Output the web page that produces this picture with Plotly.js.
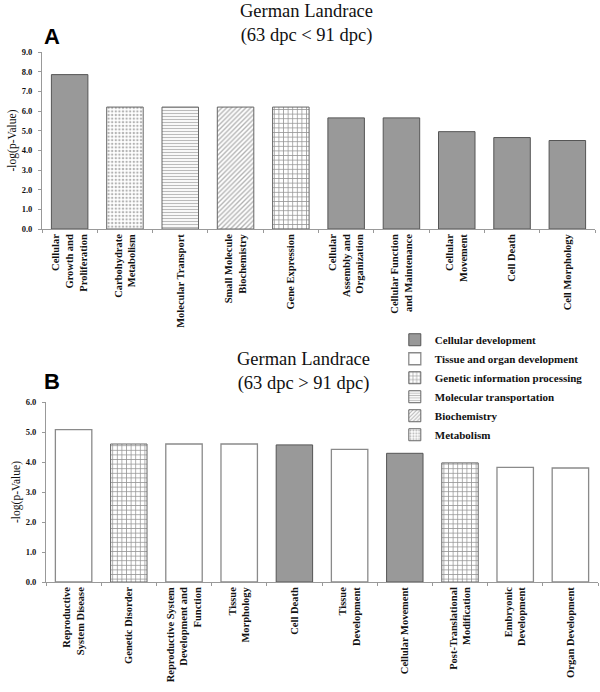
<!DOCTYPE html>
<html>
<head>
<meta charset="utf-8">
<script src="https://cdn.plot.ly/plotly-3.0.1.min.js"></script>
<style>html,body{margin:0;padding:0;background:#fff;}#chart{width:600px;height:692px;}</style>
</head>
<body>
<div id="chart"></div>
<script>
// ---------- data ----------
var topCategories = ["Cellular Growth and Proliferation", "Carbohydrate Metabolism", "Molecular Transport", "Small Molecule Biochemistry", "Gene Expression", "Cellular Assembly and Organization", "Cellular Function and Maintenance", "Cellular Movement", "Cell Death", "Cell Morphology"];
var topLabels = ["Cellular<br>Growth and<br>Proliferation", "Carbohydrate<br>Metabolism", "Molecular Transport", "Small Molecule<br>Biochemistry", "Gene Expression", "Cellular<br>Assembly and<br>Organization", "Cellular Function<br>and Maintenance", "Cellular<br>Movement", "Cell Death", "Cell Morphology"];
var topValues = [7.85, 6.2, 6.2, 6.2, 6.2, 5.65, 5.65, 4.95, 4.65, 4.5];
var topGroups = ["Cellular development", "Metabolism", "Molecular transportation", "Biochemistry", "Genetic information processing", "Cellular development", "Cellular development", "Cellular development", "Cellular development", "Cellular development"];

var bottomCategories = ["Reproductive System Disease", "Genetic Disorder", "Reproductive System Development and Function", "Tissue Morphology", "Cell Death", "Tissue Development", "Cellular Movement", "Post-Translational Modification", "Embryonic Development", "Organ Development"];
var bottomLabels = ["Reproductive<br>System Disease", "Genetic Disorder", "Reproductive System<br>Development and<br>Function", "Tissue<br>Morphology", "Cell Death", "Tissue<br>Development", "Cellular Movement", "Post-Translational<br>Modification", "Embryonic<br>Development", "Organ Development"];
var bottomValues = [5.08, 4.6, 4.6, 4.6, 4.57, 4.42, 4.29, 3.97, 3.82, 3.8];
var bottomGroups = ["Tissue and organ development", "Genetic information processing", "Tissue and organ development", "Tissue and organ development", "Cellular development", "Tissue and organ development", "Cellular development", "Genetic information processing", "Tissue and organ development", "Tissue and organ development"];

var legendOrder = ["Cellular development", "Tissue and organ development", "Genetic information processing", "Molecular transportation", "Biochemistry", "Metabolism"];

var topTitle = "German Landrace<br>(63 dpc &lt; 91 dpc)";
var bottomTitle = "German Landrace<br>(63 dpc &gt; 91 dpc)";
var yTitle = "-log(p-Value)";

// ---------- styles ----------
var SERIF = "Liberation Serif, Times New Roman, serif";
var styles = {
  "Cellular development": {color: "#999999", line: {color: "#555555", width: 1}},
  "Tissue and organ development": {color: "#ffffff", line: {color: "#8a8a8a", width: 1.3}},
  "Genetic information processing": {color: "#ffffff", line: {color: "#666666", width: 1},
      pattern: {shape: "+", size: 4.6, solidity: 0.3, fgcolor: "#2a2a2a", bgcolor: "#ffffff", fillmode: "overlay"}},
  "Molecular transportation": {color: "#ffffff", line: {color: "#666666", width: 1},
      pattern: {shape: "-", size: 3, solidity: 0.4, fgcolor: "#777777", bgcolor: "#ffffff", fillmode: "overlay"}},
  "Biochemistry": {color: "#ffffff", line: {color: "#666666", width: 1},
      pattern: {shape: "/", size: 3.4, solidity: 0.4, fgcolor: "#666666", bgcolor: "#ffffff", fillmode: "overlay"}},
  "Metabolism": {color: "#ffffff", line: {color: "#666666", width: 1},
      pattern: {shape: ".", size: 3.6, solidity: 0.35, fgcolor: "#666666", bgcolor: "#ffffff", fillmode: "overlay"}}
};

var traces = [];
var shown = {};
function addPanel(cats, vals, groups, xa, ya) {
  legendOrder.forEach(function (g, gi) {
    var xs = [], ys = [];
    for (var i = 0; i < cats.length; i++) {
      if (groups[i] === g) { xs.push(cats[i]); ys.push(vals[i]); }
    }
    if (!xs.length) return;
    traces.push({
      type: "bar", x: xs, y: ys, xaxis: xa, yaxis: ya,
      name: g, legendgroup: g, legendrank: gi + 1,
      showlegend: !shown[g],
      marker: styles[g],
      hoverinfo: "x+y"
    });
    shown[g] = true;
  });
}
addPanel(topCategories, topValues, topGroups, "x", "y");
addPanel(bottomCategories, bottomValues, bottomGroups, "x2", "y2");

function alias(cats, labels) {
  var o = {};
  cats.forEach(function (c, i) { o[c] = labels[i]; });
  return o;
}

var xCommon = {
  type: "category", tickangle: -90, ticks: "outside", tickson: "boundaries",
  ticklen: 3, tickcolor: "#999", showline: true, linecolor: "#999", linewidth: 1,
  showgrid: false, zeroline: false, fixedrange: true,
  tickfont: {family: SERIF, size: 10.5, color: "#111", weight: "bold"}
};
var yCommon = {
  dtick: 1, tickformat: ".1f", ticks: "outside", ticklen: 3, tickcolor: "#999",
  ticklabelstandoff: 4,
  showline: true, linecolor: "#999", linewidth: 1, showgrid: false, zeroline: false,
  tickfont: {family: SERIF, size: 8.5, color: "#111", weight: "bold"},
  title: {text: yTitle, standoff: 2, font: {family: SERIF, size: 11.5, color: "#111"}}
};

var layout = {
  width: 600, height: 692,
  margin: {l: 0, r: 0, t: 0, b: 0},
  paper_bgcolor: "#fff", plot_bgcolor: "#fff",
  barmode: "overlay", bargap: 0.34,
  showlegend: true,
  legend: {x: 0.658, y: 0.53, xanchor: "left", yanchor: "top", bgcolor: "rgba(0,0,0,0)",
    font: {family: SERIF, size: 11, color: "#111", weight: "bold"}, traceorder: "normal"},
  xaxis: Object.assign({}, xCommon, {domain: [42 / 600, 595 / 600], anchor: "y",
    categoryorder: "array", categoryarray: topCategories, labelalias: alias(topCategories, topLabels)}),
  yaxis: Object.assign({}, yCommon, {domain: [1 - 229 / 692, 1 - 52 / 692], range: [0, 9], anchor: "x"}),
  xaxis2: Object.assign({}, xCommon, {domain: [46 / 600, 598 / 600], anchor: "y2",
    categoryorder: "array", categoryarray: bottomCategories, labelalias: alias(bottomCategories, bottomLabels)}),
  yaxis2: Object.assign({}, yCommon, {domain: [1 - 582 / 692, 1 - 402 / 692], range: [0, 6], anchor: "x2"}),
  annotations: [
    {text: topTitle, xref: "paper", yref: "paper", x: 306 / 600, y: 1 - 24 / 692, xanchor: "center", yanchor: "middle",
     showarrow: false, font: {family: SERIF, size: 18.5, color: "#111"}},
    {text: bottomTitle, xref: "paper", yref: "paper", x: 303 / 600, y: 1 - 371 / 692, xanchor: "center", yanchor: "middle",
     showarrow: false, font: {family: SERIF, size: 18.5, color: "#111"}},
    {text: "<b>A</b>", xref: "paper", yref: "paper", x: 42 / 600, y: 1 - 36 / 692, xanchor: "left", yanchor: "middle",
     showarrow: false, font: {family: "Liberation Sans, Arial, sans-serif", size: 22, color: "#000"}},
    {text: "<b>B</b>", xref: "paper", yref: "paper", x: 42 / 600, y: 1 - 381 / 692, xanchor: "left", yanchor: "middle",
     showarrow: false, font: {family: "Liberation Sans, Arial, sans-serif", size: 22, color: "#000"}}
  ]
};

Plotly.newPlot("chart", traces, layout, {displayModeBar: false, staticPlot: true});
</script>
</body>
</html>
